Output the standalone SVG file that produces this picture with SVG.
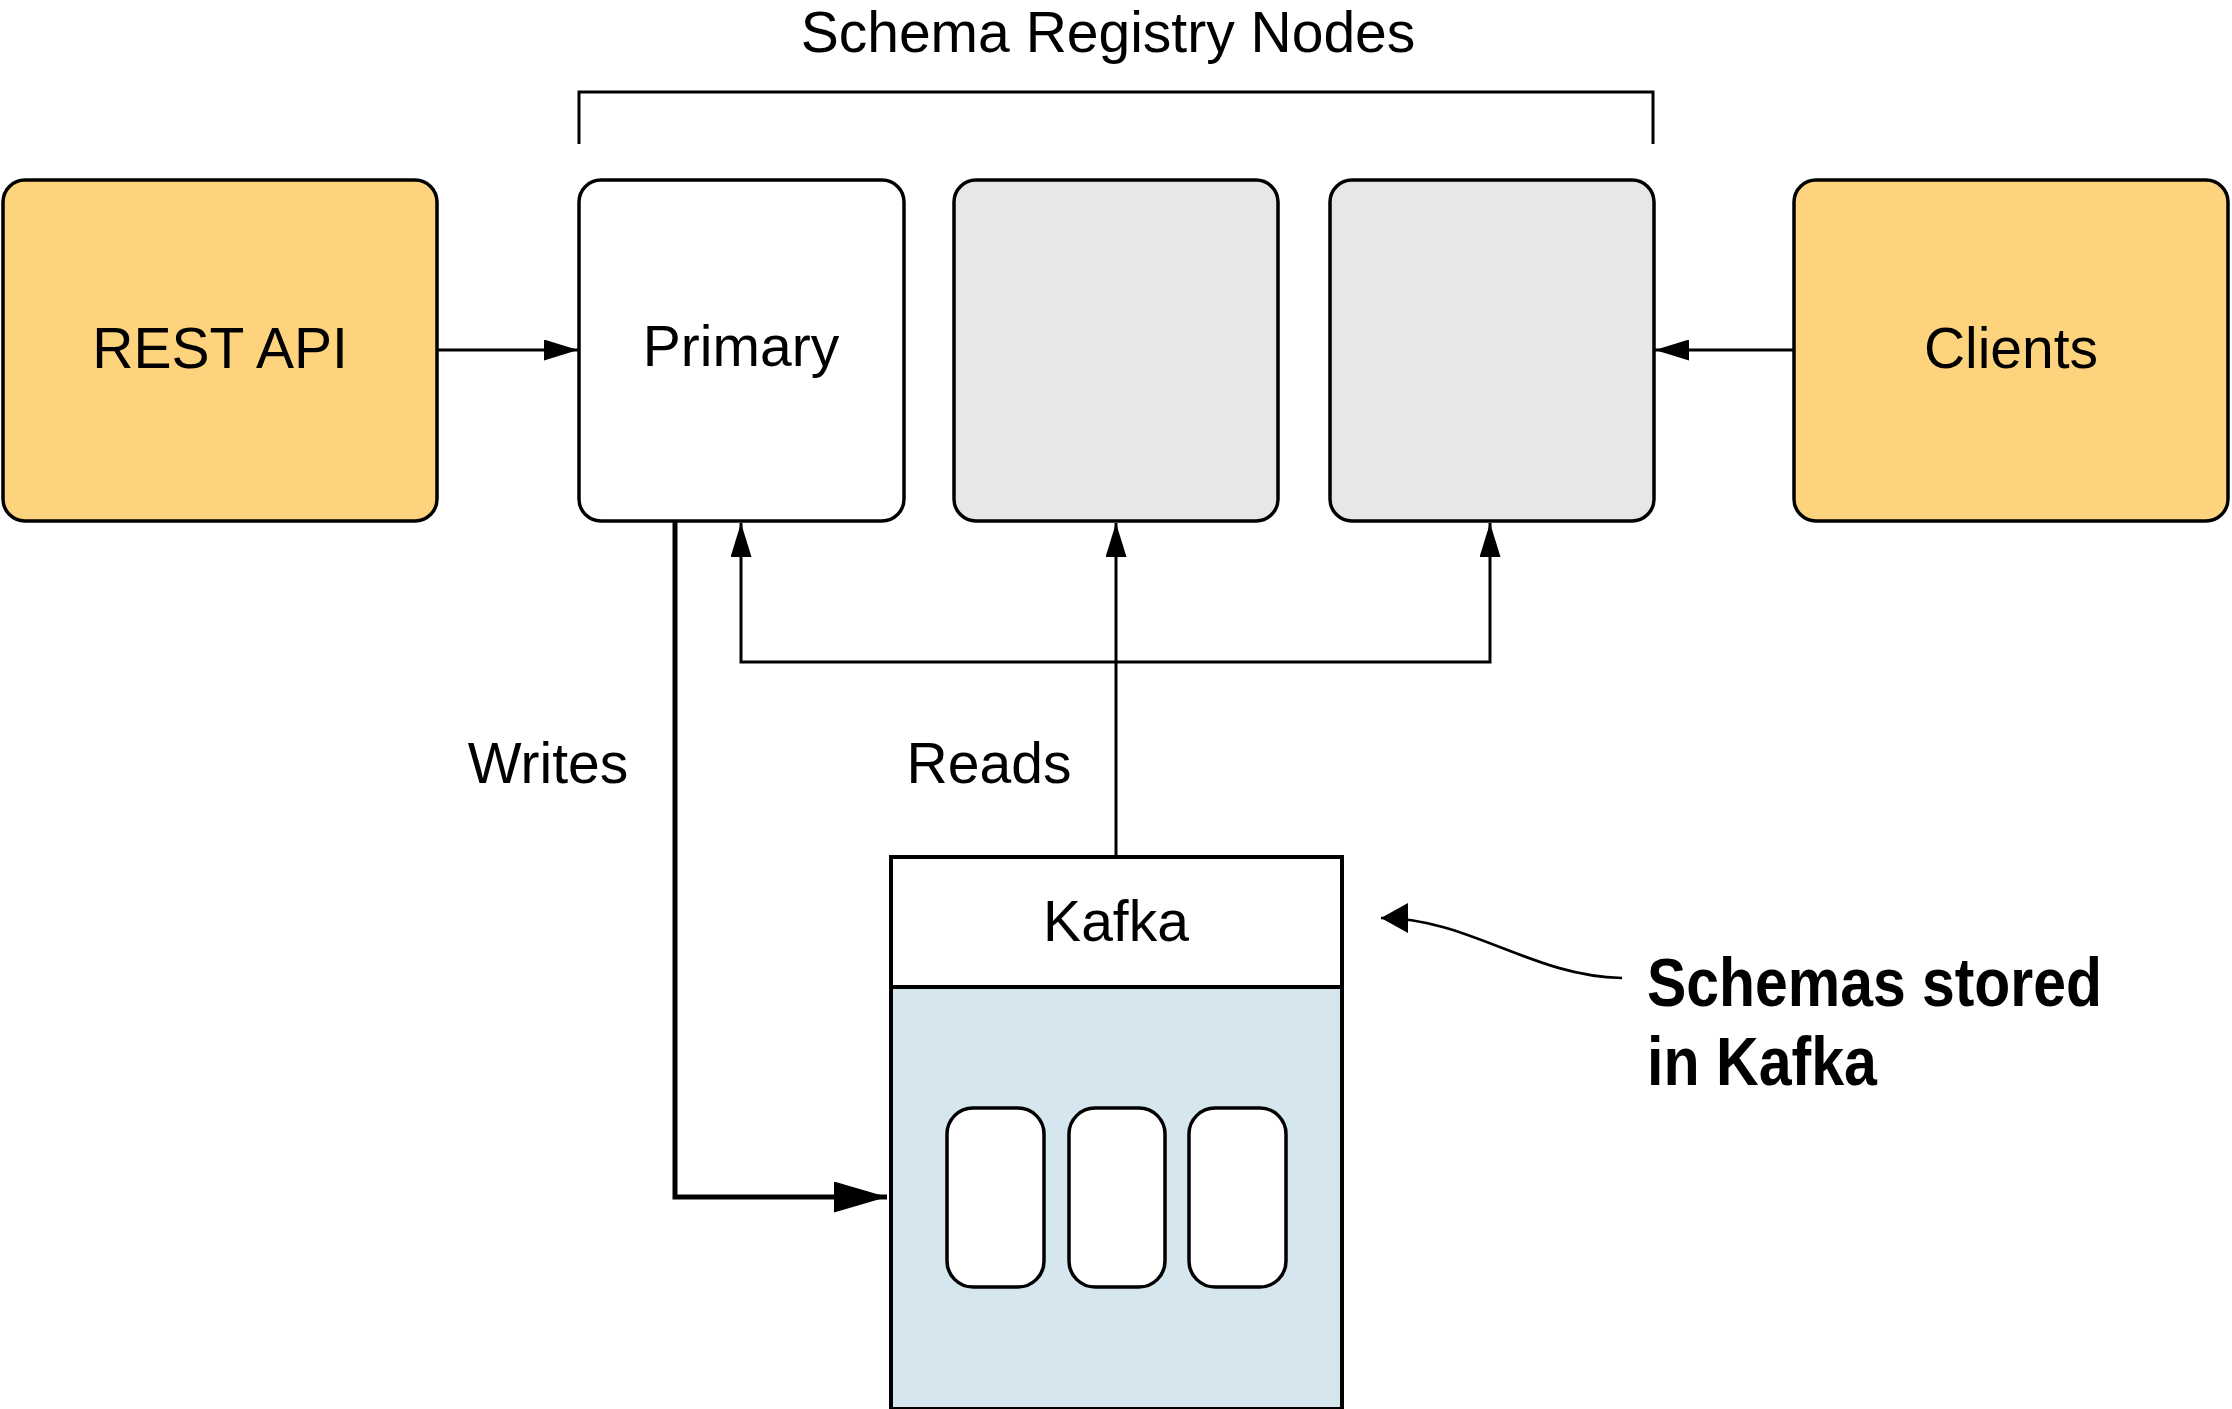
<svg xmlns="http://www.w3.org/2000/svg" width="2232" height="1409" viewBox="0 0 2232 1409">
<style>
.t{font-family:"Liberation Sans",Arial,sans-serif;font-size:57px;fill:#000;text-anchor:middle}
.b{stroke:#000;stroke-width:3.5}
.or{fill:#FDD37E}
.gr{fill:#E6E7E8}
.wh{fill:#fff}
.ln{fill:none;stroke:#000;stroke-width:3}
.ann{font-family:"Liberation Sans",Arial,sans-serif;font-weight:bold;font-size:68px;fill:#000}
</style>
<defs>
<marker id="ah" markerUnits="userSpaceOnUse" viewBox="0 0 34 21" markerWidth="34" markerHeight="21" refX="34" refY="10.5" orient="auto"><path d="M0,0 L34,10.5 L0,21 Z" fill="#000"/></marker>
<marker id="ahb" markerUnits="userSpaceOnUse" viewBox="0 0 53 31" markerWidth="53" markerHeight="31" refX="53" refY="15.5" orient="auto"><path d="M0,0 L53,15.5 L0,31 Z" fill="#000"/></marker>
<marker id="aha" markerUnits="userSpaceOnUse" viewBox="0 0 27 30" markerWidth="27" markerHeight="30" refX="27" refY="15" orient="auto"><path d="M0,0 L27,15 L0,30 Z" fill="#000"/></marker>
</defs>
<rect width="2232" height="1409" fill="#fff"/>
<g id="title">
<text class="t" x="1108" y="52">Schema Registry Nodes</text>
<path d="M579 144 L579 92 L1653 92 L1653 144" fill="none" stroke="#000" stroke-width="3"/>
</g>
<g id="rest-api">
<rect class="b or" x="3" y="180" width="434" height="341" rx="22"/>
<text class="t" x="220" y="368">REST API</text>
</g>
<g id="primary">
<rect class="b wh" x="579" y="180" width="325" height="341" rx="22"/>
<text class="t" x="741" y="366">Primary</text>
</g>
<g id="node2">
<rect class="b gr" x="954" y="180" width="324" height="341" rx="22"/>
</g>
<g id="node3">
<rect class="b gr" x="1330" y="180" width="324" height="341" rx="22"/>
</g>
<g id="clients">
<rect class="b or" x="1794" y="180" width="434" height="341" rx="22"/>
<text class="t" x="2011" y="368">Clients</text>
</g>
<g id="kafka">
<rect x="891" y="857" width="451" height="552" fill="#D6E6EF" stroke="#000" stroke-width="4"/>
<rect x="891" y="857" width="451" height="130" fill="#fff" stroke="#000" stroke-width="4"/>
<text class="t" x="1116" y="941">Kafka</text>
<rect class="wh" x="947" y="1108" width="97" height="179" rx="26" stroke="#000" stroke-width="3.5"/>
<rect class="wh" x="1069" y="1108" width="96" height="179" rx="26" stroke="#000" stroke-width="3.5"/>
<rect class="wh" x="1189" y="1108" width="97" height="179" rx="26" stroke="#000" stroke-width="3.5"/>
</g>
<g id="labels">
<text class="t" x="548" y="783">Writes</text>
<text class="t" x="989" y="783">Reads</text>
</g>
<g id="annotation">
<text class="ann" x="1647" y="1006" textLength="455" lengthAdjust="spacingAndGlyphs">Schemas stored</text>
<text class="ann" x="1647" y="1085" textLength="230" lengthAdjust="spacingAndGlyphs">in Kafka</text>
</g>
<g id="connectors">
<path class="ln" d="M437 350 L578 350" marker-end="url(#ah)"/>
<path class="ln" d="M1794 350 L1655 350" marker-end="url(#ah)"/>
<path class="ln" d="M1116 857 L1116 523" marker-end="url(#ah)"/>
<path class="ln" d="M1116 662 L741 662 L741 523" marker-end="url(#ah)"/>
<path class="ln" d="M1116 662 L1490 662 L1490 523" marker-end="url(#ah)"/>
<path d="M675 521 L675 1197 L887 1197" fill="none" stroke="#000" stroke-width="5" marker-end="url(#ahb)"/>
<path d="M1622 978 C1530 976 1470 918 1381 918" fill="none" stroke="#000" stroke-width="2.7" marker-end="url(#aha)"/>
</g>
</svg>
